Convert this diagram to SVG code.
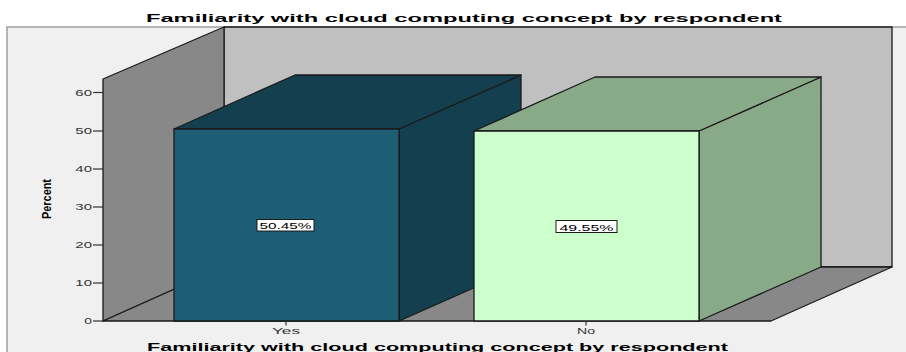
<svg xmlns="http://www.w3.org/2000/svg" width="906" height="352" viewBox="0 0 906 352">
  <style>
    .edge { stroke: #1a1a1a; stroke-width: 1.3; stroke-linejoin: round; }
    .wall { fill: #888888; }
    .back { fill: #c0c0c0; }
    .yesFront { fill: #1d5e75; }
    .yesSide { fill: #143f4f; }
    .noFront { fill: #ccffcc; }
    .noSide { fill: #89aa89; }
    .t { font-family: "Liberation Sans", Arial, sans-serif; }
    .title { font-weight: bold; fill: #000; }
    .tick { fill: #333333; font-size: 8.5px; text-anchor: end; }
    .cat { fill: #333333; font-size: 9.3px; text-anchor: middle; }
    .val { fill: #000; font-size: 9.5px; text-anchor: middle; }
    .box { fill: #ffffff; stroke: #1a1a1a; stroke-width: 1; }
    .tk { stroke: #333333; stroke-width: 1.2; }
  </style>
  <rect x="0" y="0" width="906" height="352" fill="#ffffff"/>
  <g id="frame">
    <rect x="7" y="27" width="905" height="330" fill="#f0f0f0" stroke="#a0a0a0" stroke-width="1.5"/>
  </g>
  <g id="title">
    <text class="t title" x="146" y="21.5" font-size="11.5" textLength="636" lengthAdjust="spacingAndGlyphs">Familiarity with cloud computing concept by respondent</text>
  </g>
  <g id="back-wall">
    <rect class="back edge" x="224" y="27" width="668" height="240"/>
  </g>
  <g id="left-wall">
    <polygon class="wall edge" points="103,79 224,27 224,267 103,321"/>
  </g>
  <g id="floor">
    <polygon class="wall edge" points="103,321 224,267 892,267 771,321"/>
  </g>
  <g id="y-axis">
    <g class="tk">
      <line x1="93" y1="321" x2="103" y2="321"/>
      <line x1="93" y1="283" x2="103" y2="283"/>
      <line x1="93" y1="245" x2="103" y2="245"/>
      <line x1="93" y1="207" x2="103" y2="207"/>
      <line x1="93" y1="169" x2="103" y2="169"/>
      <line x1="93" y1="131" x2="103" y2="131"/>
      <line x1="93" y1="92.5" x2="103" y2="92.5"/>
    </g>
    <text class="t tick" x="92" y="324" textLength="7.7" lengthAdjust="spacingAndGlyphs">0</text>
    <text class="t tick" x="92" y="286" textLength="16.7" lengthAdjust="spacingAndGlyphs">10</text>
    <text class="t tick" x="92" y="248" textLength="16.7" lengthAdjust="spacingAndGlyphs">20</text>
    <text class="t tick" x="92" y="210" textLength="16.7" lengthAdjust="spacingAndGlyphs">30</text>
    <text class="t tick" x="92" y="172" textLength="16.7" lengthAdjust="spacingAndGlyphs">40</text>
    <text class="t tick" x="92" y="134" textLength="16.7" lengthAdjust="spacingAndGlyphs">50</text>
    <text class="t tick" x="92" y="95.6" textLength="16.7" lengthAdjust="spacingAndGlyphs">60</text>
    <text class="t title" transform="translate(51,199) rotate(-90)" font-size="13" text-anchor="middle" textLength="40" lengthAdjust="spacingAndGlyphs">Percent</text>
  </g>
  <g id="bar-yes">
    <polygon class="yesSide edge" points="399,129 521,75 521,267 399,321"/>
    <polygon class="yesSide edge" points="174,129 295,75 521,75 399,129"/>
    <rect class="yesFront edge" x="174" y="129" width="225" height="192"/>
    <rect class="box" x="257" y="219.5" width="57" height="11.5"/>
    <text class="t val" x="285.5" y="229.3" textLength="52" lengthAdjust="spacingAndGlyphs">50.45%</text>
  </g>
  <g id="bar-no">
    <polygon class="noSide edge" points="699,131 821,77 821,267 699,321"/>
    <polygon class="noSide edge" points="474,131 595,77 821,77 699,131"/>
    <rect class="noFront edge" x="474" y="131" width="225" height="190"/>
    <rect class="box" x="556" y="220.5" width="61" height="12"/>
    <text class="t val" x="586.5" y="230.5" textLength="54" lengthAdjust="spacingAndGlyphs">49.55%</text>
  </g>
  <g id="x-axis">
    <line class="tk" x1="286" y1="321" x2="286" y2="325.5"/>
    <line class="tk" x1="586" y1="321" x2="586" y2="325.5"/>
    <text class="t cat" x="286" y="334" textLength="28" lengthAdjust="spacingAndGlyphs">Yes</text>
    <text class="t cat" x="586" y="334" textLength="18" lengthAdjust="spacingAndGlyphs">No</text>
    <text class="t title" x="147" y="350.5" font-size="11.2" textLength="581" lengthAdjust="spacingAndGlyphs">Familiarity with cloud computing concept by respondent</text>
  </g>
</svg>
